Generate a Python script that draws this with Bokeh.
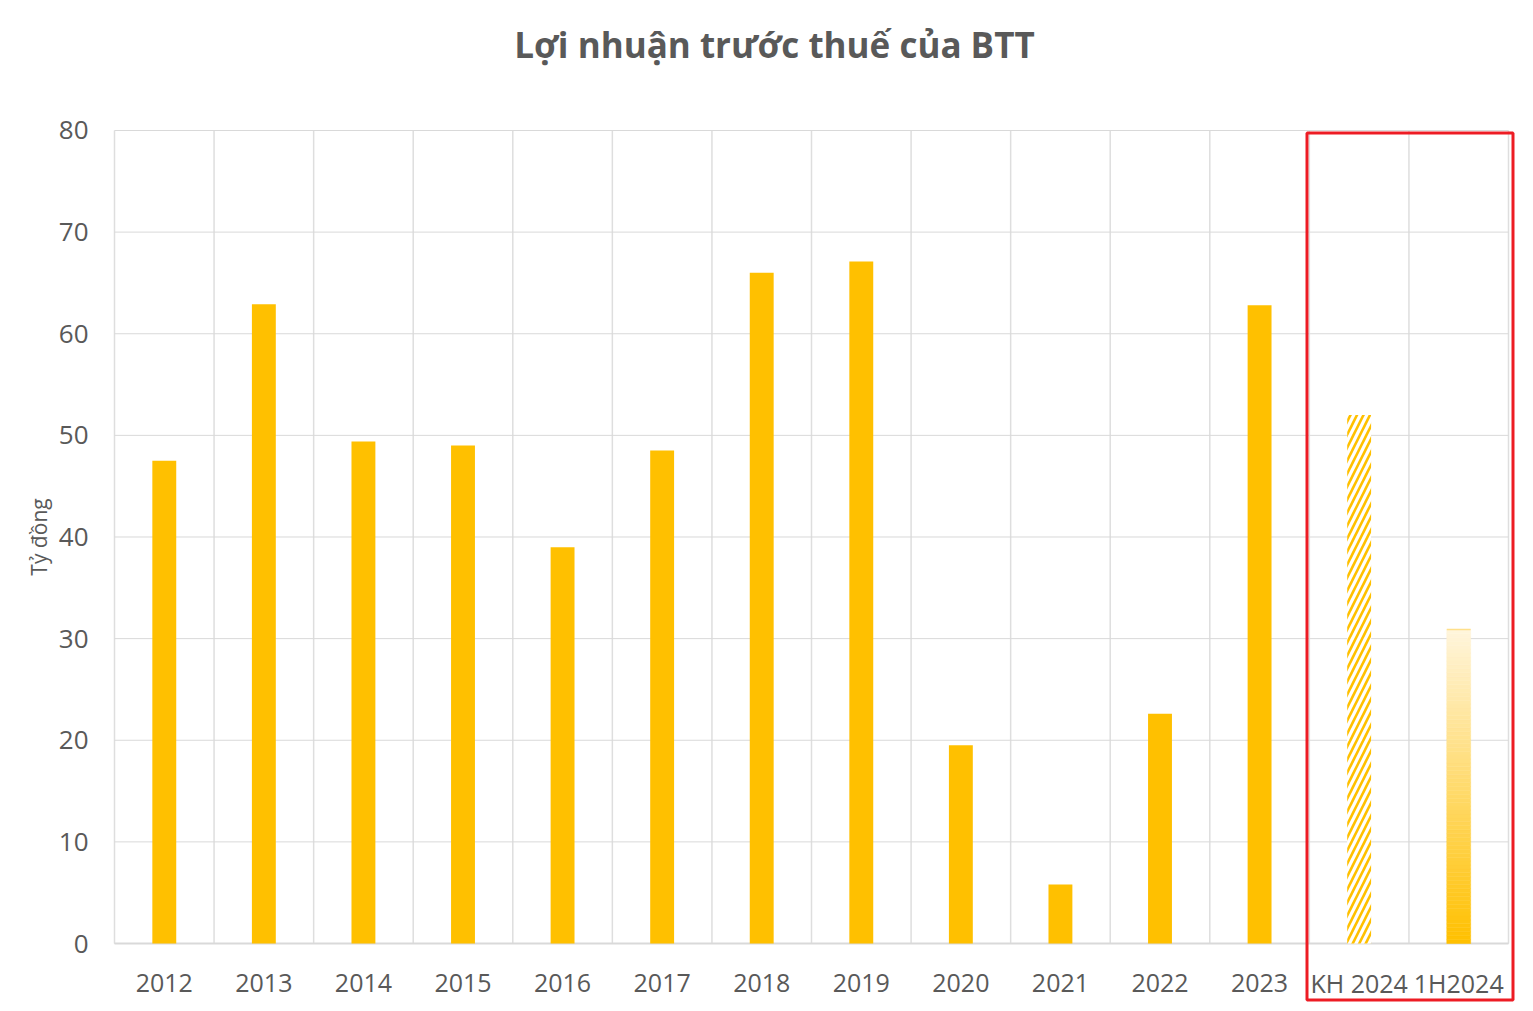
import numpy as np
from bokeh.plotting import figure
from bokeh.models import ColumnDataSource, Range1d, BoxAnnotation, Label
from bokeh.core.properties import value
from bokeh.embed import file_html
from bokeh.resources import INLINE

# ---- data ----
categories = ["2012", "2013", "2014", "2015", "2016", "2017", "2018", "2019",
              "2020", "2021", "2022", "2023", "KH 2024", "1H2024"]
profit = [47.5, 62.9, 49.4, 49.0, 39.0, 48.5, 66.0, 67.1,
          19.5, 5.8, 22.6, 62.8, 52.0, 30.9]
y_ticks = [0, 10, 20, 30, 40, 50, 60, 70, 80]
y_tick_labels = [str(t) for t in y_ticks]
title_text = "Lợi nhuận trước thuế của BTT"
y_label = "Tỷ đồng"

TEXT = "#595959"
GOLD = "#FFC000"
FONT = "Open Sans"

n = len(categories)
xpos = np.arange(n) + 0.5
YMAX = y_ticks[-1]

# the plotting frame covers the whole canvas so nothing (labels, highlight box) is clipped
p = figure(width=1525, height=1003, output_backend="svg", toolbar_location=None,
           x_range=Range1d(-1.14491, 14.0803), y_range=Range1d(-5.904, 92.792),
           x_axis_location=None, y_axis_location=None,
           min_border_left=0, min_border_right=9, min_border_top=0,
           min_border_bottom=0)
p.title.visible = False
p.outline_line_color = None
p.background_fill_color = "white"
p.border_fill_color = "white"
p.xgrid.visible = False
p.ygrid.visible = False

# grid lines (category boundaries and value ticks)
bounds = list(range(n + 1))
p.segment(x0=bounds, x1=bounds, y0=[0] * len(bounds), y1=[YMAX] * len(bounds),
          line_color="#DEDEDE", line_width=1.5)
p.segment(x0=[0] * len(y_ticks), x1=[n] * len(y_ticks), y0=y_ticks, y1=y_ticks,
          line_color="#D9D9D9", line_width=1)
# x axis line
p.segment(x0=[0], x1=[n], y0=[0], y1=[0], line_color="#D9D9D9", line_width=2)

# regular bars
src = ColumnDataSource(dict(x=xpos[:12], top=profit[:12]))
p.vbar(x="x", top="top", width=0.24, source=src, fill_color=GOLD, line_color=None)

# hatched plan bar
src_h = ColumnDataSource(dict(x=xpos[12:13], top=profit[12:13]))
p.vbar(x="x", top="top", width=0.24, source=src_h, fill_color="white",
       hatch_pattern="/", hatch_color=GOLD, hatch_weight=2.6, hatch_scale=13,
       line_color=None)

# gradient bar (1H2024)
steps = 80
edges = np.linspace(0, profit[13], steps + 1)
c0 = np.array([0xFF, 0xC0, 0x00])
c1 = np.array([0xFF, 0xF5, 0xDC])
cols = []
for i in range(steps):
    t = (i + 0.5) / steps
    c = (c0 * (1 - t) + c1 * t).round().astype(int)
    cols.append("#%02x%02x%02x" % tuple(c))
src_g = ColumnDataSource(dict(x=[xpos[13]] * steps, bottom=edges[:-1], top=edges[1:], color=cols))
p.vbar(x="x", bottom="bottom", top="top", width=0.24, source=src_g,
       fill_color="color", line_color="color", line_width=0.5)
p.vbar(x=[xpos[13]], top=[profit[13]], bottom=[profit[13]], width=0.24,
       fill_color=None, line_color="#FFE08A", line_width=1.5)

# category (x) labels
p.text(x=xpos, y=[-3.84] * n, text=categories, text_align="center",
       text_baseline="middle", text_font=value(FONT), text_font_size="25px",
       text_color=TEXT)

# value (y) tick labels
p.text(x=[-0.261] * len(y_ticks), y=y_ticks, text=y_tick_labels, text_align="right",
       text_baseline="middle", text_font=value(FONT), text_font_size="26px",
       text_color=TEXT)

# y axis title
p.text(x=[-0.763], y=[YMAX / 2], text=[y_label], angle=np.pi / 2,
       text_align="center", text_baseline="middle", text_font=value(FONT),
       text_font_size="21px", text_color=TEXT)

# title
p.add_layout(Label(x=774, y=44, x_units="canvas", y_units="canvas", text=title_text,
                   text_align="center", text_baseline="middle", text_font=FONT,
                   text_font_size="35px", text_font_style="bold", text_color=TEXT))

# red highlight box
box = BoxAnnotation(left=1306.5, right=1512.5, top=132.5, bottom=999.5,
                    left_units="canvas", right_units="canvas",
                    top_units="canvas", bottom_units="canvas",
                    fill_color=None, fill_alpha=0, line_color="#ED1C24",
                    line_alpha=1, line_width=3)
p.add_layout(box)

open("out.html", "w").write(file_html(p, INLINE))
